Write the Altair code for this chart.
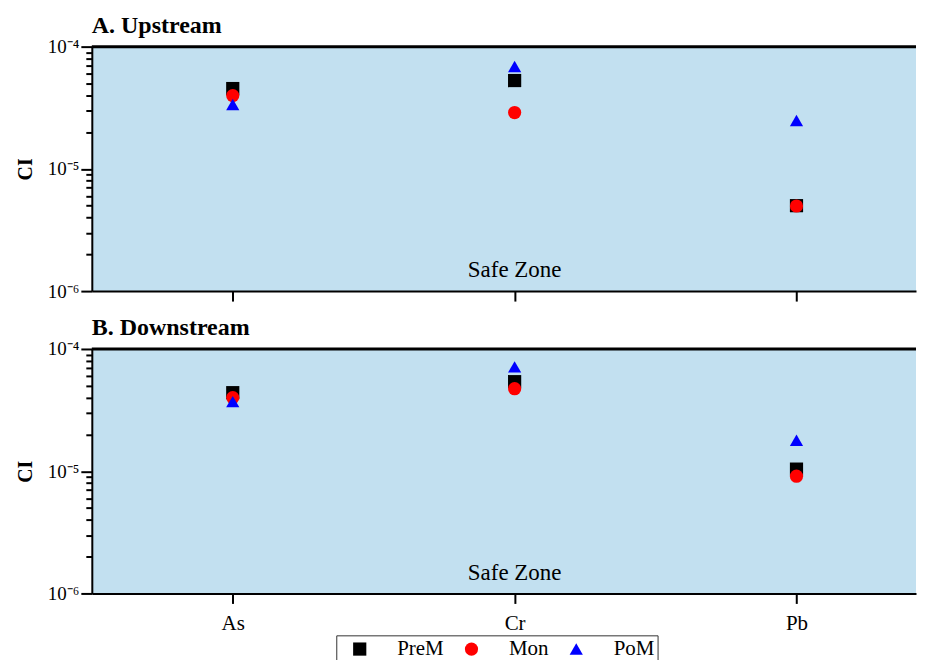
import altair as alt
import pandas as pd

# ---- data ----
metals = ["As", "Cr", "Pb"]
seasons = ["PreM", "Mon", "PoM"]
season_colors = ["#000000", "#ff0000", "#0000ff"]
season_shapes = ["square", "circle", "triangle-up"]

up_prem = [4.54e-5, 5.28e-5, 5.0e-6]
up_mon = [3.98e-5, 2.89e-5, 4.97e-6]
up_pom = [3.36e-5, 6.87e-5, 2.49e-5]

down_prem = [4.39e-5, 5.4e-5, 1.04e-5]
down_mon = [4.0e-5, 4.73e-5, 9.1e-6]
down_pom = [3.71e-5, 7.14e-5, 1.79e-5]

y_tick_values = [1e-6, 2e-6, 3e-6, 4e-6, 5e-6, 6e-6, 7e-6, 8e-6, 9e-6,
                 1e-5, 2e-5, 3e-5, 4e-5, 5e-5, 6e-5, 7e-5, 8e-5, 9e-5, 1e-4]
y_decades = [1e-6, 1e-5, 1e-4]
y_decade_labels = ["10⁻⁶", "10⁻⁵", "10⁻⁴"]

safe_label = "Safe Zone"
safe_value = 1.3e-6
panel_titles = ["A. Upstream", "B. Downstream"]

FONT = "Liberation Serif"


def make_df(prem, mon, pom):
    rows = []
    for s, vals in zip(seasons, [prem, mon, pom]):
        for i, (m, v) in enumerate(zip(metals, vals)):
            rows.append({"idx": i, "metal": m, "season": s, "CI": v})
    return pd.DataFrame(rows)


label_expr = " : ".join(
    f"datum.value == {d!r} ? '{l}'" for d, l in zip(y_decades, y_decade_labels)
) + " : ''"
decade_test = "abs(log(datum.value)/LN10 - round(log(datum.value)/LN10)) < 0.01"

x_label_expr = "[" + ",".join(f"'{m}'" for m in metals) + "][datum.value]"


def panel(df, title, show_labels):
    x_axis = alt.Axis(
        values=list(range(len(metals))),
        labels=show_labels,
        labelExpr=x_label_expr,
        labelFont=FONT, labelFontSize=21, labelColor="black", labelPadding=9,
        tickSize=10, tickWidth=2, tickColor="black",
        domainColor="black", domainWidth=2, grid=False, title=None,
    )
    y_axis = alt.Axis(
        values=y_tick_values,
        labelExpr=label_expr,
        labelOverlap=False, labelFlush=False,
        labelFont=FONT, labelFontSize=19, labelColor="black", labelPadding=2,
        tickSize={"condition": {"test": decade_test, "value": 11}, "value": 6},
        tickWidth=2, tickColor="black",
        domainColor="black", domainWidth=2, grid=False,
        title="CI", titleFont=FONT, titleFontSize=20, titleFontWeight="bold",
        titleColor="black", titlePadding=12,
    )
    x = alt.X("idx:Q", scale=alt.Scale(domain=[-0.5, 2.424], nice=False, zero=False), axis=x_axis)
    y = alt.Y("CI:Q", scale=alt.Scale(type="log", domain=[1e-6, 1e-4], nice=False), axis=y_axis)

    pts = alt.Chart(df).mark_point(filled=True, size=175, opacity=1).encode(
        x=x, y=y,
        color=alt.Color("season:N", scale=alt.Scale(domain=seasons, range=season_colors), title=None),
        shape=alt.Shape("season:N", scale=alt.Scale(domain=seasons, range=season_shapes), title=None),
    )
    safe = alt.Chart(pd.DataFrame({"idx": [1], "CI": [safe_value], "t": [safe_label]})).mark_text(
        font=FONT, fontSize=23, color="black", baseline="alphabetic", align="center"
    ).encode(x=x, y=y, text="t:N")
    top_rule = alt.Chart(pd.DataFrame({"CI": [1e-4]})).mark_rule(color="black", strokeWidth=3).encode(
        y=alt.Y("CI:Q")
    )
    return alt.layer(pts, safe, top_rule).properties(
        width=826, height=245,
        title=alt.TitleParams(title, anchor="start", frame="group", font=FONT, fontSize=24,
                              fontWeight="bold", color="black", offset=0),
    )


top = panel(make_df(up_prem, up_mon, up_pom), panel_titles[0], False)
bottom = panel(make_df(down_prem, down_mon, down_pom), panel_titles[1], True)

chart = alt.vconcat(top, bottom, spacing=14).properties(
    padding={"left": 7, "top": 5, "right": 0, "bottom": 0}
).configure_view(
    fill="#c2e0f0", stroke=None
).configure_legend(
    orient="none", legendX=245, legendY=590, direction="horizontal",
    strokeColor="#333333", strokeWidth=1, padding=3,
    labelFont=FONT, labelFontSize=21, labelColor="black",
    symbolSize=175, symbolOffset=10, labelOffset=27, columnPadding=7, symbolStrokeWidth=0,
)

chart.save("out.html", embed_options={"renderer": "svg", "actions": False})
